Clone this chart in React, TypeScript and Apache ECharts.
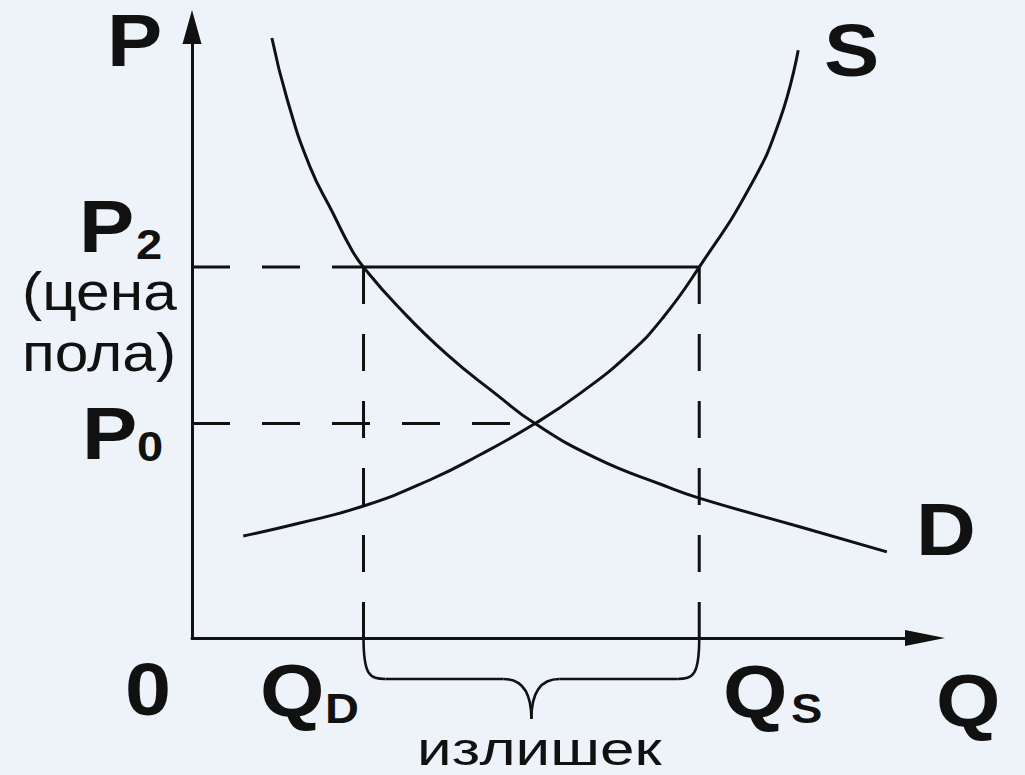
import React, { useEffect, useRef } from "react";
import * as echarts from "echarts";

// ---- data (economic units) ----
const Q_MIN = 0;
const Q_MAX = 10;
const P_MIN = 0;
const P_MAX = 10;

const Q_D = 2.34; // quantity demanded at floor price
const Q_E = 4.68; // equilibrium quantity
const Q_S = 6.92; // quantity supplied at floor price
const P_2 = 6.07; // floor price
const P_0 = 3.51; // equilibrium price

const demandQ = [1.09, 1.3, 1.61, 1.92, 2.18, 2.34, 2.79, 3.47, 4.16, 4.68, 5.52, 6.43, 6.92, 8.29, 9.48];
const demandP = [9.82, 8.81, 7.71, 6.96, 6.35, 6.07, 5.45, 4.65, 3.98, 3.51, 2.94, 2.5, 2.29, 1.82, 1.41];

const supplyQ = [0.7, 1.43, 2.34, 3.25, 3.93, 4.68, 5.29, 5.97, 6.43, 6.92, 7.61, 8.02, 8.27];
const supplyP = [1.67, 1.87, 2.16, 2.59, 3.0, 3.51, 4.0, 4.66, 5.25, 6.07, 7.38, 8.48, 9.62];

const bigLabels = ["P", "P", "P", "0", "Q", "Q", "Q", "S", "D"];
const subLabels = ["2", "0", "D", "S"];
const floorLabel = ["(цена", "пола)"];
const surplusLabel = "излишек";

const INK = "#111111";
const BG = "#eef2f9";
const FONT = "'Liberation Sans', Arial, Helvetica, sans-serif";

function zip(a: number[], b: number[]) {
  return a.map((v, i) => [v, b[i]]);
}

export default function App() {
  const ref = useRef<HTMLDivElement | null>(null);

  useEffect(() => {
    if (!ref.current) return;
    const chart = echarts.init(ref.current, null, { renderer: "svg" });

    const dashed = { color: INK, width: 3, type: [38, 32] as any };
    const solid = { color: INK, width: 3 };
    const seg = (name: string, data: number[][], lineStyle: any) => ({
      name,
      type: "line",
      data,
      symbol: "none",
      silent: true,
      lineStyle,
      z: 2,
    });

    chart.setOption({
      animation: false,
      backgroundColor: BG,
      grid: { left: 192, right: 100, top: 27, bottom: 137 },
      xAxis: {
        type: "value",
        min: Q_MIN,
        max: Q_MAX,
        axisLine: {
          show: true,
          onZero: false,
          symbol: ["none", "triangle"],
          symbolSize: [16, 40],
          lineStyle: { color: INK, width: 3 },
        },
        axisTick: { show: false },
        axisLabel: { show: false },
        splitLine: { show: false },
      },
      yAxis: {
        type: "value",
        min: P_MIN,
        max: P_MAX,
        axisLine: {
          show: true,
          onZero: false,
          symbol: ["none", "triangle"],
          symbolSize: [19, 34],
          lineStyle: { color: INK, width: 3 },
        },
        axisTick: { show: false },
        axisLabel: { show: false },
        splitLine: { show: false },
      },
      series: [
        {
          name: "D",
          type: "line",
          data: zip(demandQ, demandP),
          smooth: 0.5,
          symbol: "none",
          lineStyle: solid,
          z: 3,
        },
        {
          name: "S",
          type: "line",
          data: zip(supplyQ, supplyP),
          smooth: 0.5,
          symbol: "none",
          lineStyle: solid,
          z: 3,
        },
        seg("p2dash", [[0, P_2], [Q_D, P_2]], dashed),
        seg("floor", [[Q_D, P_2], [Q_S, P_2]], solid),
        seg("p0dash", [[0, P_0], [Q_E, P_0]], dashed),
        seg("qdDash", [[Q_D, P_2], [Q_D, 0]], { ...dashed, type: [37, 30] }),
        seg("qsDash", [[Q_S, P_2], [Q_S, 0]], { ...dashed, type: [37, 30] }),
      ],
    });

    // brace under the axis between Q_D and Q_S
    const [xl, y0] = chart.convertToPixel({ gridIndex: 0 }, [Q_D, 0]) as number[];
    const [xr] = chart.convertToPixel({ gridIndex: 0 }, [Q_S, 0]) as number[];
    const xm = (xl + xr) / 2;
    const yh = y0 + 41;
    const yt = y0 + 81;
    const braceStyle = { stroke: INK, lineWidth: 2.6, fill: "none" };
    const bez = (x1: number, y1: number, c1x: number, c1y: number, c2x: number, c2y: number, x2: number, y2: number) => ({
      type: "bezierCurve",
      shape: { x1, y1, cpx1: c1x, cpy1: c1y, cpx2: c2x, cpy2: c2y, x2, y2 },
      style: braceStyle,
      silent: true,
    });
    const ln = (x1: number, y1: number, x2: number, y2: number) => ({
      type: "line",
      shape: { x1, y1, x2, y2 },
      style: braceStyle,
      silent: true,
    });

    const txt = (text: string, x: number, y: number, size: number, bold: boolean, sx: number) => ({
      type: "text",
      x,
      y,
      scaleX: sx,
      silent: true,
      style: {
        text,
        fill: INK,
        fontSize: size,
        fontWeight: bold ? "bold" : "normal",
        fontFamily: FONT,
        align: "left",
        verticalAlign: "middle",
        textAlign: "left",
        textVerticalAlign: "middle",
      },
    });

    const BIG = 74;
    const SUB = 42;
    const SX = 1.12;

    chart.setOption({
      graphic: [
        bez(xl, y0, xl, yh - 4, xl + 6, yh, xl + 22, yh),
        ln(xl + 22, yh, xm - 28, yh),
        bez(xm - 28, yh, xm - 10, yh, xm, yh + 12, xm, yt),
        bez(xm, yt, xm, yh + 12, xm + 10, yh, xm + 28, yh),
        ln(xm + 28, yh, xr - 22, yh),
        bez(xr - 22, yh, xr - 6, yh, xr, yh - 4, xr, y0),

        txt(bigLabels[0], 107, 41, BIG, true, SX),
        txt(bigLabels[1], 79, 227, BIG, true, SX),
        txt(subLabels[0], 136, 244, SUB, true, SX),
        txt(floorLabel[0], 22, 291, 54, false, 1.12),
        txt(floorLabel[1], 22, 352, 54, false, 1.12),
        txt(bigLabels[2], 82, 434, BIG, true, SX),
        txt(subLabels[1], 137, 446, SUB, true, SX),
        txt(bigLabels[3], 125, 690, BIG, true, SX),
        txt(bigLabels[4], 260, 691, BIG, true, SX),
        txt(subLabels[2], 325, 708, SUB, true, SX),
        txt(bigLabels[5], 723, 692, BIG, true, SX),
        txt(subLabels[3], 791, 708, SUB, true, SX),
        txt(bigLabels[6], 936, 701, BIG, true, SX),
        txt(bigLabels[7], 824, 51, BIG, true, SX),
        txt(bigLabels[8], 916, 530, BIG, true, SX),
        txt(surplusLabel, 417, 749, 47, false, 1.32),
      ],
    });

    return () => chart.dispose();
  }, []);

  return (
    <div
      ref={ref}
      style={{ position: "fixed", left: 0, top: 0, width: 1025, height: 775, background: BG }}
    />
  );
}
